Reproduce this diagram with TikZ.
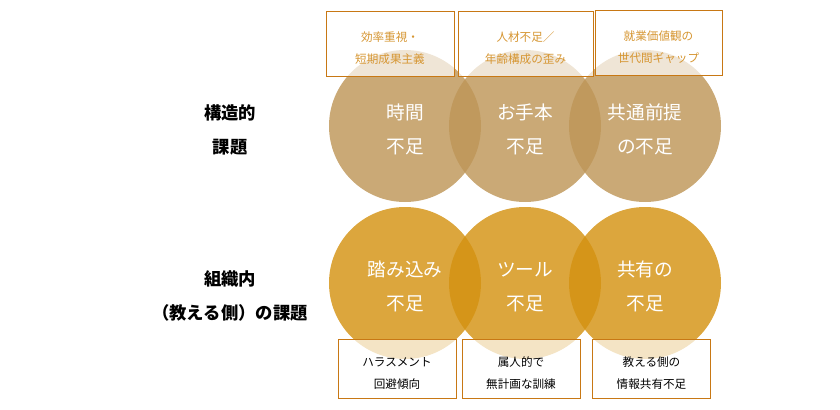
\documentclass[tikz,border=0pt]{standalone}
\usepackage{fontspec}
\newfontfamily\jp{Noto Sans CJK JP}
\definecolor{tan}{RGB}{190,150,88}
\definecolor{gold}{RGB}{212,146,18}
\definecolor{rim}{RGB}{200,120,20}
\definecolor{note}{RGB}{214,150,50}
\newcommand\boxlift{\rule{0pt}{14pt}}
\newcommand\circlift{\rule{0pt}{17pt}}
\tikzset{
  topc/.style={circle, fill=tan, fill opacity=.82, text opacity=1, minimum size=114pt, inner sep=0, text=white, align=center, font=\jp\fontsize{14}{26}\selectfont},
  botc/.style={topc, fill=gold},
  tbox/.style={draw=rim, fill=white, fill opacity=.7, text opacity=1, text=note, align=center, font=\jp\fontsize{8.7}{16.5}\selectfont, minimum height=48.75pt},
  bbox/.style={tbox, text=black, minimum height=44.25pt, minimum width=88.5pt},
  side/.style={align=center, font=\jp\bfseries\fontsize{13}{26}\selectfont}
}
\begin{document}
\begin{tikzpicture}[x=0.75pt,y=-0.75pt]
    \useasboundingbox (0,0) rectangle (840,410);

% upper row
\node[topc] (time) at (405,126) {\circlift 時間\\不足};
\node[topc] (model) at (525,126) {\circlift お手本\\不足};
\node[topc] (basis) at (645,126) {\circlift 共通前提\\の不足};

% lower row
\node[botc] (depth) at (405,283) {\circlift 踏み込み\\不足};
\node[botc] (tool) at (525,283) {\circlift ツール\\不足};
\node[botc] (share) at (645,283) {\circlift 共有の\\不足};

% causes
\node[tbox, minimum width=96pt] (effic) at (390,43.5) {\boxlift 効率重視・\\短期成果主義};
\node[tbox, minimum width=101pt] (staff) at (525.5,43.5) {\boxlift 人材不足／\\年齢構成の歪み};
\node[tbox, minimum width=95pt] (value) at (658.5,43) {\boxlift 就業価値観の\\世代間ギャップ};

\node[bbox] (harass) at (397,368.5) {\boxlift ハラスメント\\回避傾向};
\node[bbox] (person) at (521,368.5) {\boxlift 属人的で\\無計画な訓練};
\node[bbox] (info) at (651.5,368.5) {\boxlift 教える側の\\情報共有不足};

\node[side] (struct) at (230,130) {構造的\\課題};
\node[side] (inner) at (230,296) {組織内\\（教える側）の課題};

\end{tikzpicture}
\end{document}
